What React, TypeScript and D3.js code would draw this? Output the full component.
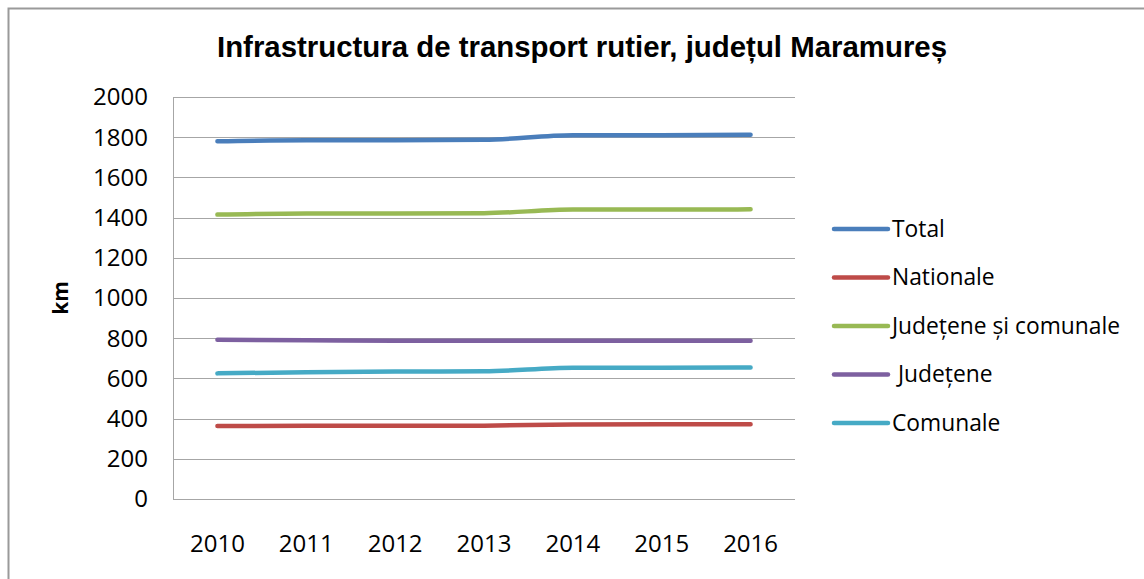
import React from 'react';
import * as d3 from 'd3';

const years = ['2010', '2011', '2012', '2013', '2014', '2015', '2016'];
const yTicks = [0, 200, 400, 600, 800, 1000, 1200, 1400, 1600, 1800, 2000];

const seriesNames = ['Total', 'Nationale', 'Județene și comunale', ' Județene', 'Comunale'];
const total = [1780, 1785, 1785, 1787, 1810, 1810, 1812];
const nationale = [363, 364, 364, 365, 371, 372, 372];
const judeteneSiComunale = [1415, 1421, 1421, 1422, 1440, 1440, 1441];
const judetene = [792, 790, 787, 787, 787, 787, 787];
const comunale = [625, 631, 634, 635, 653, 653, 654];

const colors = ['#4a7ebb', '#be4b48', '#98b954', '#7d60a0', '#46aac5'];

const App = () => {
    const width = 1144;
    const height = 579;
    const margin = {top: 97, right: 349, bottom: 80, left: 173};
    const innerW = width - margin.left - margin.right;
    const innerH = height - margin.top - margin.bottom;

    const xScale = d3.scaleBand().domain(years).range([0, innerW]);
    const yScale = d3.scaleLinear().domain([0, 2000]).range([innerH, 0]);

    const allSeries = [total, nationale, judeteneSiComunale, judetene, comunale];

    // excel "smoothed line" look
    const line = d3.line<number>()
        .x((d, i) => xScale(years[i])! + xScale.bandwidth() / 2)
        .y(d => yScale(d))
        .curve(d3.curveMonotoneX);

    const tickFont = '"Open Sans", sans-serif';

    return (
        <svg width={width} height={height} style={{position: 'absolute', left: 0, top: 0, background: '#fff'}}>
            <rect x={8.5} y={8.5} width={1200} height={700} fill="#fff" stroke="#9a9a9a" strokeWidth={2} />
            <text x={582} y={57} textAnchor="middle" fontFamily='"Liberation Sans", Arial, sans-serif'
                fontWeight="bold" fontSize={29.4} fill="#000">
                Infrastructura de transport rutier, județul Maramureș
            </text>
            <g transform={`translate(${margin.left},${margin.top})`}>
                {yTicks.map(t => (
                    <g key={t}>
                        {t > 0 && (
                            <line x1={0} x2={innerW} y1={Math.round(yScale(t)) + 0.5} y2={Math.round(yScale(t)) + 0.5}
                                stroke="#a6a6a6" strokeWidth={1} />
                        )}
                        <text x={-25} y={yScale(t)} dy="0.35em" textAnchor="end"
                            fontFamily={tickFont} fontSize={24} fill="#000">{t}</text>
                    </g>
                ))}
                <line x1={0.5} x2={0.5} y1={0} y2={innerH} stroke="#a6a6a6" />
                <line x1={0} x2={innerW} y1={innerH + 0.5} y2={innerH + 0.5} stroke="#a6a6a6" />
                {years.map(y => (
                    <text key={y} x={xScale(y)! + xScale.bandwidth() / 2} y={innerH + 45} dy="0.35em"
                        textAnchor="middle" fontFamily={tickFont} fontSize={24} fill="#000">{y}</text>
                ))}
                {allSeries.map((s, i) => (
                    <path key={i} d={line(s) || ''} fill="none" stroke={colors[i]} strokeWidth={4.5}
                        strokeLinecap="round" strokeLinejoin="round" />
                ))}
            </g>
            <text transform="translate(68,298) rotate(-90)" textAnchor="middle"
                fontFamily={tickFont} fontWeight="bold" fontSize={21} fill="#000">km</text>
            <g>
                {seriesNames.map((n, i) => (
                    <g key={n} transform={`translate(834,${229 + i * 48.5})`}>
                        <line x1={0} x2={54} y1={0} y2={0} stroke={colors[i]} strokeWidth={4.5} strokeLinecap="round" />
                        <text x={58} y={0} dy="0.35em" fontFamily={tickFont} fontSize={22.8} fill="#000"
                            style={{whiteSpace: 'pre'}}>{n}</text>
                    </g>
                ))}
            </g>
        </svg>
    );
};

export default App;
